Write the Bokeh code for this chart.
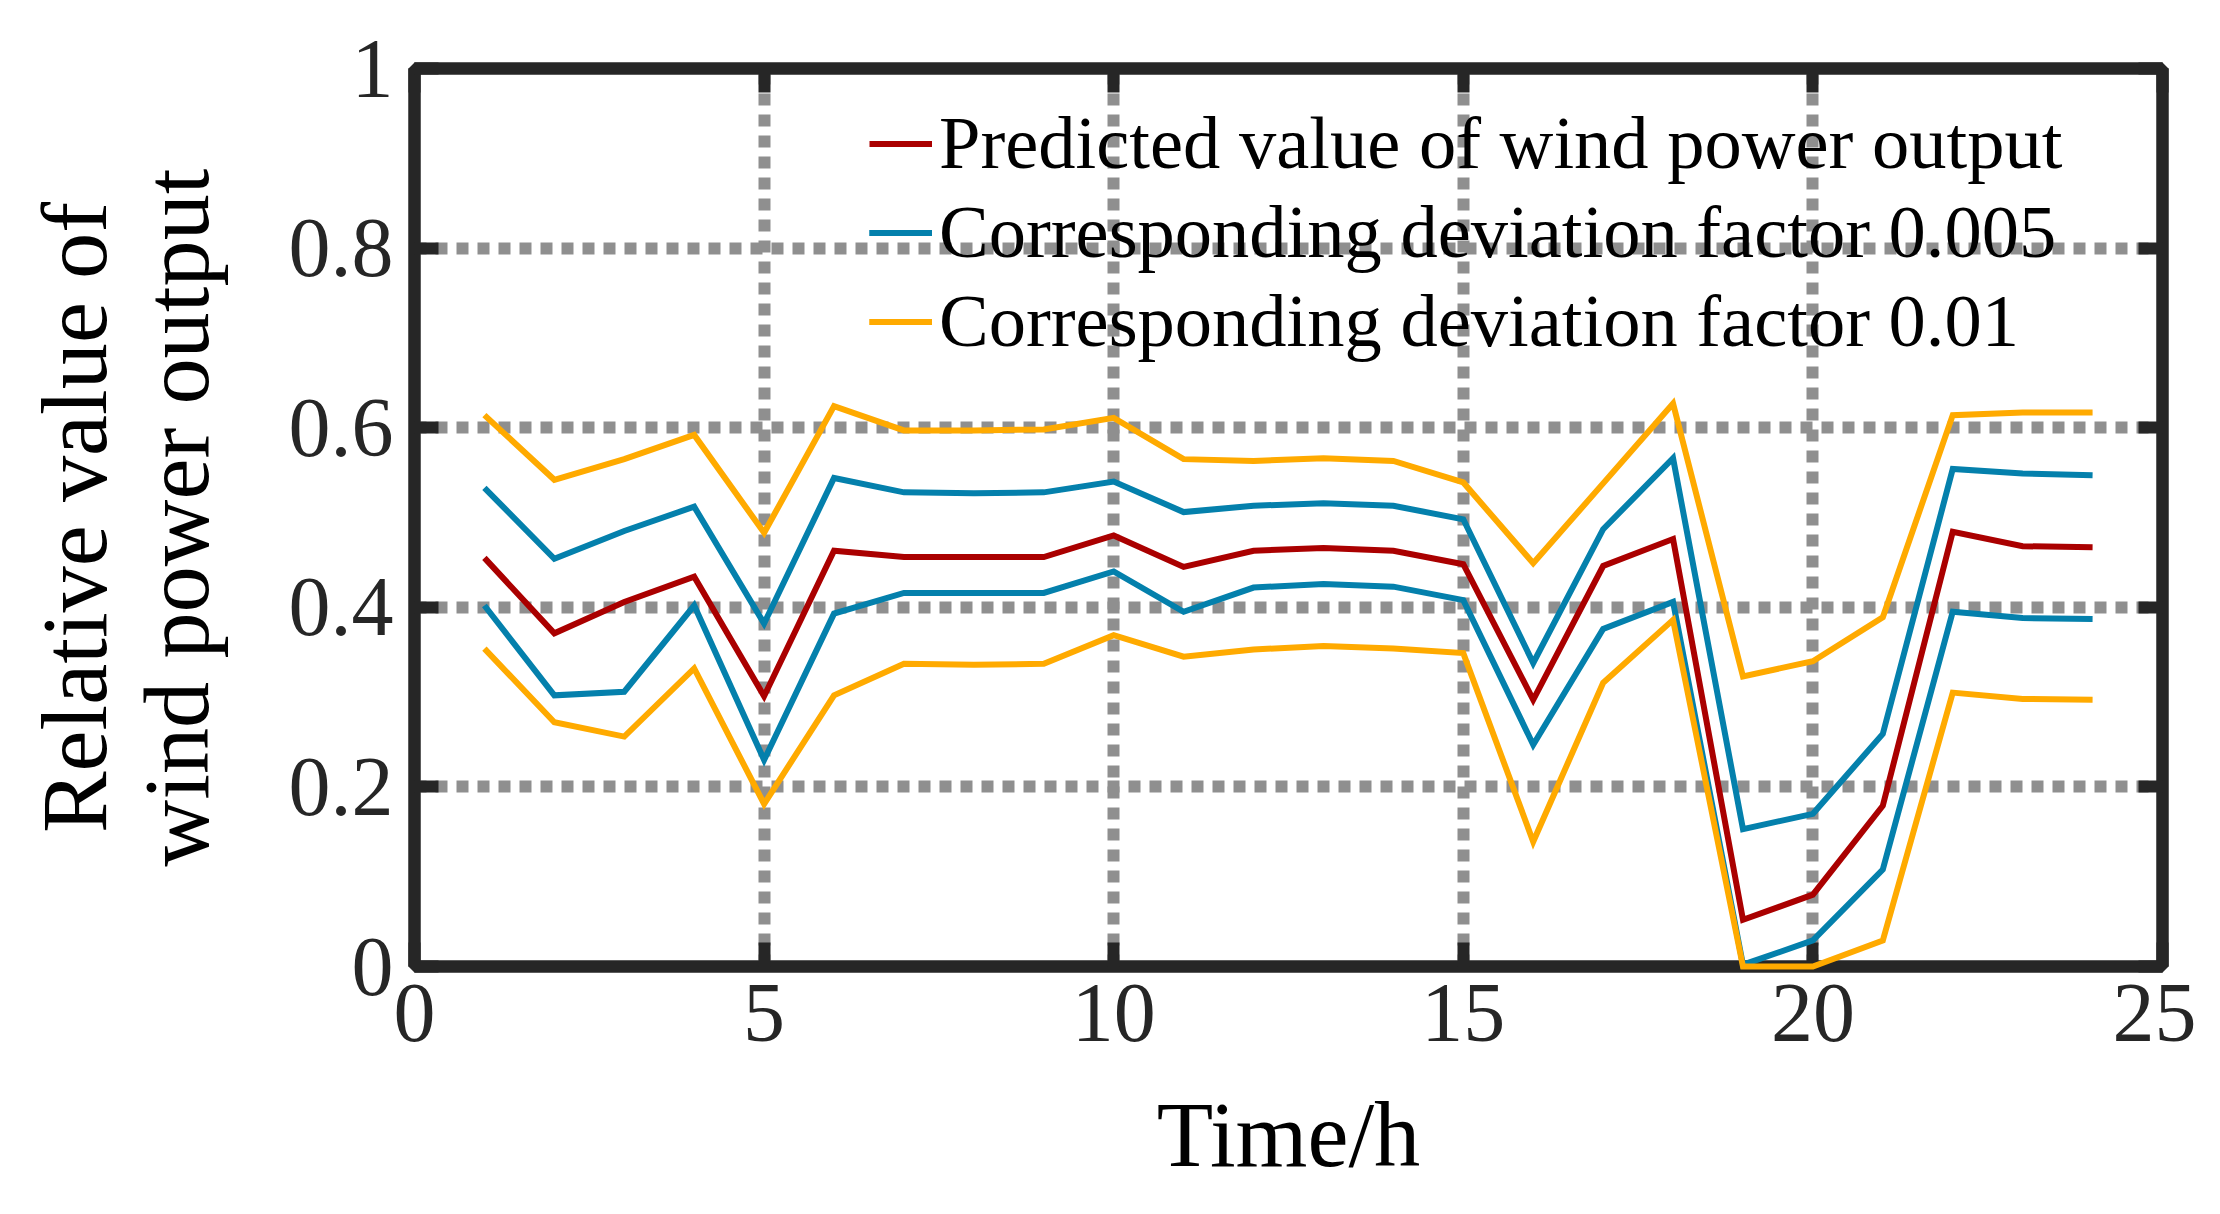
from bokeh.plotting import figure
from bokeh.models import Range1d, FixedTicker, LinearAxis, Legend, LegendItem
from bokeh.embed import file_html
from bokeh.resources import INLINE

# ---- data ----
hours = list(range(1, 25))
predicted = [0.455, 0.371, 0.406, 0.434, 0.301, 0.463, 0.456, 0.456, 0.456, 0.480,
             0.445, 0.463, 0.466, 0.463, 0.448, 0.297, 0.446, 0.476, 0.052, 0.080,
             0.179, 0.484, 0.468, 0.467]
dev005_upper = [0.533, 0.454, 0.485, 0.512, 0.382, 0.544, 0.528, 0.527, 0.528, 0.540,
                0.506, 0.513, 0.516, 0.513, 0.498, 0.338, 0.487, 0.566, 0.153, 0.170,
                0.259, 0.554, 0.549, 0.547]
dev005_lower = [0.402, 0.302, 0.306, 0.402, 0.230, 0.393, 0.416, 0.416, 0.416, 0.440,
                0.395, 0.422, 0.426, 0.423, 0.408, 0.247, 0.376, 0.406, 0.002, 0.029,
                0.108, 0.395, 0.388, 0.387]
dev01_upper = [0.614, 0.542, 0.565, 0.592, 0.483, 0.624, 0.597, 0.597, 0.598, 0.611,
               0.565, 0.563, 0.566, 0.563, 0.539, 0.449, 0.538, 0.627, 0.323, 0.340,
               0.389, 0.614, 0.617, 0.617]
dev01_lower = [0.354, 0.272, 0.256, 0.332, 0.181, 0.302, 0.337, 0.336, 0.337, 0.369,
               0.345, 0.353, 0.357, 0.354, 0.349, 0.139, 0.316, 0.386, 0.0, 0.0,
               0.029, 0.305, 0.298, 0.297]

x_ticks = [0, 5, 10, 15, 20, 25]
y_ticks = [0, 0.2, 0.4, 0.6, 0.8, 1]
y_tick_labels = ["0", "0.2", "0.4", "0.6", "0.8", "1"]
legend_labels = ["Predicted value of wind power output",
                 "Corresponding deviation factor 0.005",
                 "Corresponding deviation factor 0.01"]
x_label = "Time/h"
y_label = "Relative value of\nwind power output"

# ---- style ----
FONT = "Liberation Serif"
DARK = "#262626"
RED = "#AA0000"
BLUE = "#0480AC"
ORANGE = "#FFAA00"
GRID = "#8f8f8f"

W, H = 2196, 1198
B_LEFT, B_RIGHT, B_TOP, B_BOTTOM = 414, 34, 68, 232
FRAME_H = H - B_TOP - B_BOTTOM

p = figure(width=W, height=H, output_backend="svg", toolbar_location=None,
           x_range=Range1d(0, 25), y_range=Range1d(0, 1),
           min_border_left=B_LEFT, min_border_right=B_RIGHT, min_border_top=B_TOP,
           min_border_bottom=B_BOTTOM)
p.background_fill_color = "white"
p.border_fill_color = "white"
p.outline_line_color = DARK
p.outline_line_width = 12


def style_axis(ax, show_labels):
    ax.axis_line_color = DARK
    ax.axis_line_width = 12
    ax.major_tick_in = 24
    ax.major_tick_out = 0
    ax.major_tick_line_width = 12
    ax.major_tick_line_color = DARK
    ax.minor_tick_line_color = None
    ax.major_label_text_font = FONT
    ax.major_label_text_color = DARK
    if show_labels:
        ax.major_label_text_font_size = "84px"
    else:
        ax.major_label_text_font_size = "0px"
        ax.major_label_text_alpha = 0
        ax.major_label_standoff = 0


p.xaxis.ticker = FixedTicker(ticks=x_ticks)
p.yaxis.ticker = FixedTicker(ticks=y_ticks)
p.yaxis.major_label_overrides = {t: s for t, s in zip(y_ticks, y_tick_labels)}
style_axis(p.xaxis[0], True)
style_axis(p.yaxis[0], True)
p.xaxis.major_label_standoff = 18
p.yaxis.major_label_standoff = 21

p.xaxis.axis_label = x_label
p.yaxis.axis_label = y_label
for ax in (p.xaxis[0], p.yaxis[0]):
    ax.axis_label_text_font = FONT
    ax.axis_label_text_font_size = "92.4px"
    ax.axis_label_text_font_style = "normal"
    ax.axis_label_text_color = "black"
    ax.axis_label_text_line_height = 1.0
p.xaxis.axis_label_standoff = 40
p.yaxis.axis_label_standoff = 58

top_ax = LinearAxis(ticker=FixedTicker(ticks=x_ticks))
right_ax = LinearAxis(ticker=FixedTicker(ticks=y_ticks))
style_axis(top_ax, False)
style_axis(right_ax, False)
p.add_layout(top_ax, "above")
p.add_layout(right_ax, "right")

p.xgrid.ticker = FixedTicker(ticks=x_ticks)
p.ygrid.ticker = FixedTicker(ticks=y_ticks)
for g in (p.xgrid[0], p.ygrid[0]):
    g.grid_line_color = GRID
    g.grid_line_width = 12
    g.grid_line_dash = "12 9"

line_kw = dict(line_width=6, line_join="miter", level="overlay")
r_pred = p.line(hours, predicted, line_color=RED, **line_kw)
r_b1 = p.line(hours, dev005_upper, line_color=BLUE, **line_kw)
r_b2 = p.line(hours, dev005_lower, line_color=BLUE, **line_kw)
r_o1 = p.line(hours, dev01_upper, line_color=ORANGE, **line_kw)
r_o2 = p.line(hours, dev01_lower, line_color=ORANGE, **line_kw)

ROW = 89
legend = Legend(items=[LegendItem(label=legend_labels[0], renderers=[r_pred]),
                       LegendItem(label=legend_labels[1], renderers=[r_b1, r_b2]),
                       LegendItem(label=legend_labels[2], renderers=[r_o1, r_o2])],
                location=(455, FRAME_H - 31 - 3 * ROW), border_line_color=None,
                background_fill_alpha=0, padding=0, margin=0, spacing=0,
                label_height=ROW, glyph_height=ROW, glyph_width=63,
                label_standoff=7, label_text_font=FONT,
                label_text_font_size="74.5px", label_text_color="black")
p.add_layout(legend)

open("out.html", "w").write(file_html(p, INLINE))
